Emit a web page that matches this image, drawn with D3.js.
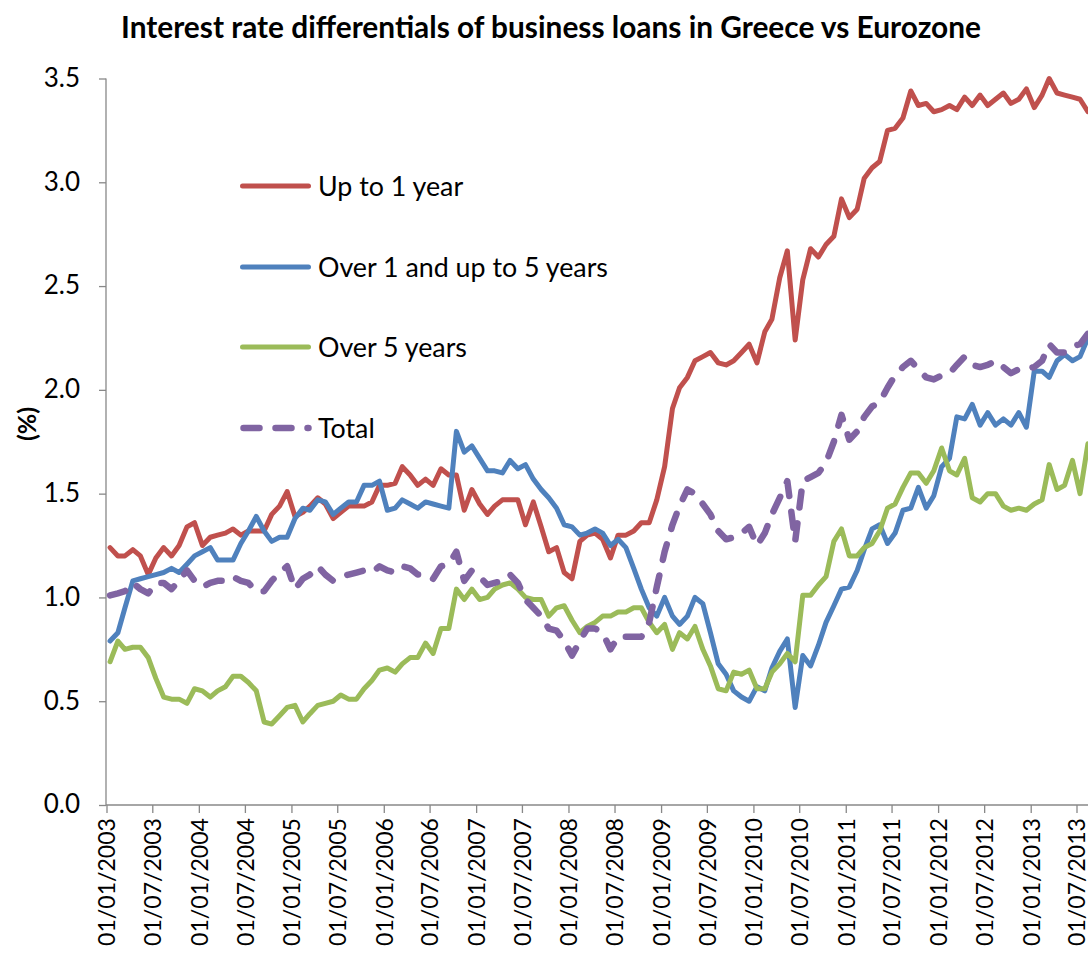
<!DOCTYPE html>
<html>
<head>
<meta charset="utf-8">
<script src="https://cdn.jsdelivr.net/npm/d3@7"></script>
<style>
  html, body { margin: 0; padding: 0; background: #fff; }
  svg { display: block; }
  text { font-family: Lato, "Open Sans", sans-serif; fill: #000; }
</style>
</head>
<body>
<svg id="chart" width="1088" height="953"></svg>
<script>
// Monthly series, January 2003 to August 2013 (%)
const firstMonth = [2003, 0];
const upTo1Year = [
  1.24,1.20,1.20,1.23,1.20,1.11,1.19,1.24,1.20,1.25,
  1.34,1.36,1.25,1.29,1.30,1.31,1.33,1.30,1.32,1.32,
  1.32,1.40,1.44,1.51,1.39,1.41,1.44,1.48,1.45,1.38,
  1.41,1.44,1.44,1.44,1.46,1.54,1.54,1.55,1.63,1.59,
  1.54,1.57,1.54,1.62,1.59,1.59,1.42,1.52,1.45,1.40,
  1.44,1.47,1.47,1.47,1.35,1.46,1.34,1.22,1.24,1.12,
  1.09,1.27,1.30,1.31,1.28,1.19,1.30,1.30,1.32,1.36,
  1.36,1.47,1.63,1.91,2.01,2.06,2.14,2.16,2.18,2.13,
  2.12,2.14,2.18,2.22,2.13,2.28,2.34,2.54,2.67,2.24,
  2.53,2.68,2.64,2.70,2.74,2.92,2.83,2.87,3.02,3.07,
  3.10,3.25,3.26,3.31,3.44,3.37,3.38,3.34,3.35,3.37,
  3.35,3.41,3.37,3.42,3.37,3.40,3.43,3.38,3.40,3.45,
  3.36,3.42,3.50,3.43,3.42,3.41,3.40,3.34
];
const over1UpTo5Years = [
  0.79,0.83,0.95,1.08,1.09,1.10,1.11,1.12,1.14,1.12,
  1.16,1.20,1.22,1.24,1.18,1.18,1.18,1.26,1.32,1.39,
  1.32,1.27,1.29,1.29,1.38,1.43,1.42,1.47,1.46,1.40,
  1.43,1.46,1.46,1.54,1.54,1.56,1.42,1.43,1.47,1.45,
  1.43,1.46,1.45,1.44,1.43,1.80,1.70,1.73,1.67,1.61,
  1.61,1.60,1.66,1.62,1.64,1.57,1.52,1.48,1.43,1.35,
  1.34,1.30,1.31,1.33,1.31,1.25,1.28,1.24,1.14,1.04,
  0.95,0.91,1.00,0.91,0.87,0.91,1.00,0.97,0.83,0.68,
  0.63,0.55,0.52,0.50,0.57,0.55,0.66,0.74,0.80,0.47,
  0.72,0.67,0.77,0.88,0.96,1.04,1.05,1.13,1.23,1.33,
  1.35,1.26,1.31,1.42,1.43,1.53,1.43,1.49,1.63,1.67,
  1.87,1.86,1.93,1.83,1.89,1.83,1.86,1.83,1.89,1.82,
  2.09,2.09,2.06,2.14,2.17,2.14,2.16,2.25
];
const over5Years = [
  0.69,0.79,0.75,0.76,0.76,0.71,0.61,0.52,0.51,0.51,
  0.49,0.56,0.55,0.52,0.55,0.57,0.62,0.62,0.59,0.55,
  0.40,0.39,0.43,0.47,0.48,0.40,0.44,0.48,0.49,0.50,
  0.53,0.51,0.51,0.56,0.60,0.65,0.66,0.64,0.68,0.71,
  0.71,0.78,0.73,0.85,0.85,1.04,0.99,1.04,0.99,1.00,
  1.04,1.06,1.07,1.04,1.00,0.99,0.99,0.91,0.95,0.96,
  0.89,0.83,0.86,0.88,0.91,0.91,0.93,0.93,0.95,0.95,
  0.88,0.83,0.87,0.75,0.83,0.80,0.86,0.75,0.67,0.56,
  0.55,0.64,0.63,0.65,0.56,0.56,0.64,0.68,0.73,0.69,
  1.01,1.01,1.06,1.10,1.27,1.33,1.20,1.20,1.24,1.26,
  1.32,1.43,1.45,1.53,1.60,1.60,1.55,1.61,1.72,1.61,
  1.59,1.67,1.48,1.46,1.50,1.50,1.44,1.42,1.43,1.42,
  1.45,1.47,1.64,1.52,1.54,1.66,1.50,1.74
];
const total = [
  1.01,1.02,1.03,1.07,1.04,1.02,1.07,1.07,1.04,1.08,
  1.13,1.08,1.05,1.07,1.08,1.08,1.10,1.08,1.07,1.03,
  1.03,1.08,1.12,1.15,1.04,1.09,1.11,1.15,1.11,1.08,
  1.10,1.11,1.12,1.13,1.12,1.15,1.13,1.12,1.15,1.14,
  1.11,1.11,1.09,1.15,1.16,1.22,1.08,1.13,1.10,1.06,
  1.07,1.08,1.11,1.07,0.99,0.95,0.91,0.85,0.84,0.79,
  0.72,0.79,0.85,0.85,0.83,0.75,0.81,0.81,0.81,0.81,
  0.88,1.05,1.22,1.35,1.44,1.52,1.50,1.45,1.40,1.32,
  1.28,1.29,1.31,1.34,1.25,1.31,1.40,1.48,1.56,1.27,
  1.56,1.58,1.60,1.65,1.75,1.88,1.76,1.80,1.87,1.92,
  1.94,2.01,2.07,2.11,2.14,2.10,2.06,2.05,2.07,2.08,
  2.12,2.16,2.12,2.11,2.12,2.14,2.11,2.08,2.10,2.10,
  2.11,2.14,2.22,2.18,2.18,2.21,2.22,2.27
];
const seriesNames = ["Up to 1 year", "Over 1 and up to 5 years", "Over 5 years", "Total"];
const seriesColors = ["#C0504D", "#4F81BD", "#9BBB59", "#8064A2"];
const yTickValues = [0, 0.5, 1.0, 1.5, 2.0, 2.5, 3.0, 3.5];
const titleText = "Interest rate differentials of business loans in Greece vs Eurozone";
const yAxisTitle = "(%)";

const svg = d3.select("#chart");
const W = 1088, H = 953;
svg.append("rect").attr("width", W).attr("height", H).attr("fill", "#fff");

// Date axis: ticks on the 1st of every sixth month, monthly values plotted mid-month
const axisStart = new Date(Date.UTC(2003, 0, 1));
const axisRef = new Date(Date.UTC(2013, 6, 1));
const x = d3.scaleUtc().domain([axisStart, axisRef]).range([106.5, 1076.5]);
const y = d3.scaleLinear().domain([0, 3.5]).range([805, 78.5]);

const monthDates = upTo1Year.map((_, i) =>
  d3.utcDay.offset(new Date(Date.UTC(firstMonth[0], firstMonth[1] + i, 1)), 14));
const xTickValues = d3.utcMonth.every(6).range(axisStart, new Date(Date.UTC(2013, 7, 1)));
const plotRight = W + 10;

const series = [upTo1Year, over1UpTo5Years, over5Years, total].map((vals, k) => ({
  name: seriesNames[k],
  color: seriesColors[k],
  dashed: k === 3,
  points: vals.map((v, i) => ({ date: monthDates[i], v }))
}));
const strokeW = d => d.dashed ? 6.5 : 5;
const dash = d => d.dashed ? "16,16" : null;

// Title
const title = svg.append("text")
  .attr("x", 551).attr("y", 38)
  .attr("text-anchor", "middle")
  .attr("font-weight", "bold")
  .attr("font-size", 26)
  .text(titleText);
{
  const w = title.node().getComputedTextLength();
  title.attr("font-size", 26 * 860 / w);
}

// Y axis
const yAxis = svg.append("g")
  .attr("transform", "translate(106,0)")
  .call(d3.axisLeft(y).tickValues(yTickValues).tickFormat(d3.format(".1f")).tickSize(7).tickSizeOuter(0));
yAxis.select(".domain").remove();
yAxis.selectAll(".tick line").attr("stroke", "#888").attr("stroke-width", 1.3);
yAxis.selectAll(".tick text").attr("x", -26).attr("dy", "0.3em")
  .attr("font-size", 26).attr("font-family", "Lato, 'Open Sans', sans-serif").attr("fill", "#000");
svg.append("line").attr("x1", 106).attr("x2", 106).attr("y1", y(3.5)).attr("y2", y(0))
  .attr("stroke", "#888").attr("stroke-width", 1.3);

// X axis
const xAxis = svg.append("g")
  .attr("transform", `translate(0,${y(0)})`)
  .call(d3.axisBottom(x).tickValues(xTickValues).tickFormat(d3.utcFormat("%d/%m/%Y")).tickSize(8).tickSizeOuter(0));
xAxis.select(".domain").remove();
xAxis.selectAll(".tick line").attr("stroke", "#888").attr("stroke-width", 1.3);
const xLabels = xAxis.selectAll(".tick text")
  .attr("transform", "rotate(-90)")
  .attr("text-anchor", "end")
  .attr("x", -13).attr("y", 0).attr("dy", "0.36em")
  .attr("font-size", 24).attr("font-family", "Lato, 'Open Sans', sans-serif").attr("fill", "#000");
{
  const w = xLabels.node().getComputedTextLength();
  xLabels.attr("font-size", 24 * 128 / w);
}
svg.append("line").attr("x1", 106).attr("x2", plotRight).attr("y1", y(0)).attr("y2", y(0))
  .attr("stroke", "#888").attr("stroke-width", 1.3);

// Y axis title
svg.append("text")
  .attr("transform", "translate(27,424) rotate(-90)")
  .attr("text-anchor", "middle")
  .attr("dy", "0.35em")
  .attr("font-weight", "bold")
  .attr("font-size", 25)
  .text(yAxisTitle);

// Series lines
svg.append("defs").append("clipPath").attr("id", "plot-clip")
  .append("rect").attr("x", 100).attr("y", 0).attr("width", W - 100).attr("height", 820);

const line = d3.line().x(d => x(d.date)).y(d => y(d.v));
svg.append("g").attr("clip-path", "url(#plot-clip)")
  .selectAll("path").data(series).join("path")
  .attr("d", d => line(d.points))
  .attr("fill", "none")
  .attr("stroke", d => d.color)
  .attr("stroke-width", strokeW)
  .attr("stroke-linejoin", "round")
  .attr("stroke-linecap", "round")
  .attr("stroke-dasharray", dash);

// Legend
const legendY = [186, 267, 347, 428];
const legend = svg.append("g").selectAll("g").data(series).join("g")
  .attr("transform", (d, i) => `translate(0,${legendY[i]})`);
legend.append("line")
  .attr("x1", d => d.dashed ? 243.5 : 242.5).attr("x2", 308.5).attr("y1", 0).attr("y2", 0)
  .attr("stroke", d => d.color).attr("stroke-width", strokeW)
  .attr("stroke-linecap", "round")
  .attr("stroke-dasharray", dash);
const legendText = legend.append("text")
  .attr("x", 318).attr("y", 0).attr("dy", "0.36em")
  .attr("font-size", 24)
  .text(d => d.name);
{
  const w = legendText.filter((d, i) => i === 1).node().getComputedTextLength();
  legendText.attr("font-size", 24 * 290 / w);
}
</script>
</body>
</html>
